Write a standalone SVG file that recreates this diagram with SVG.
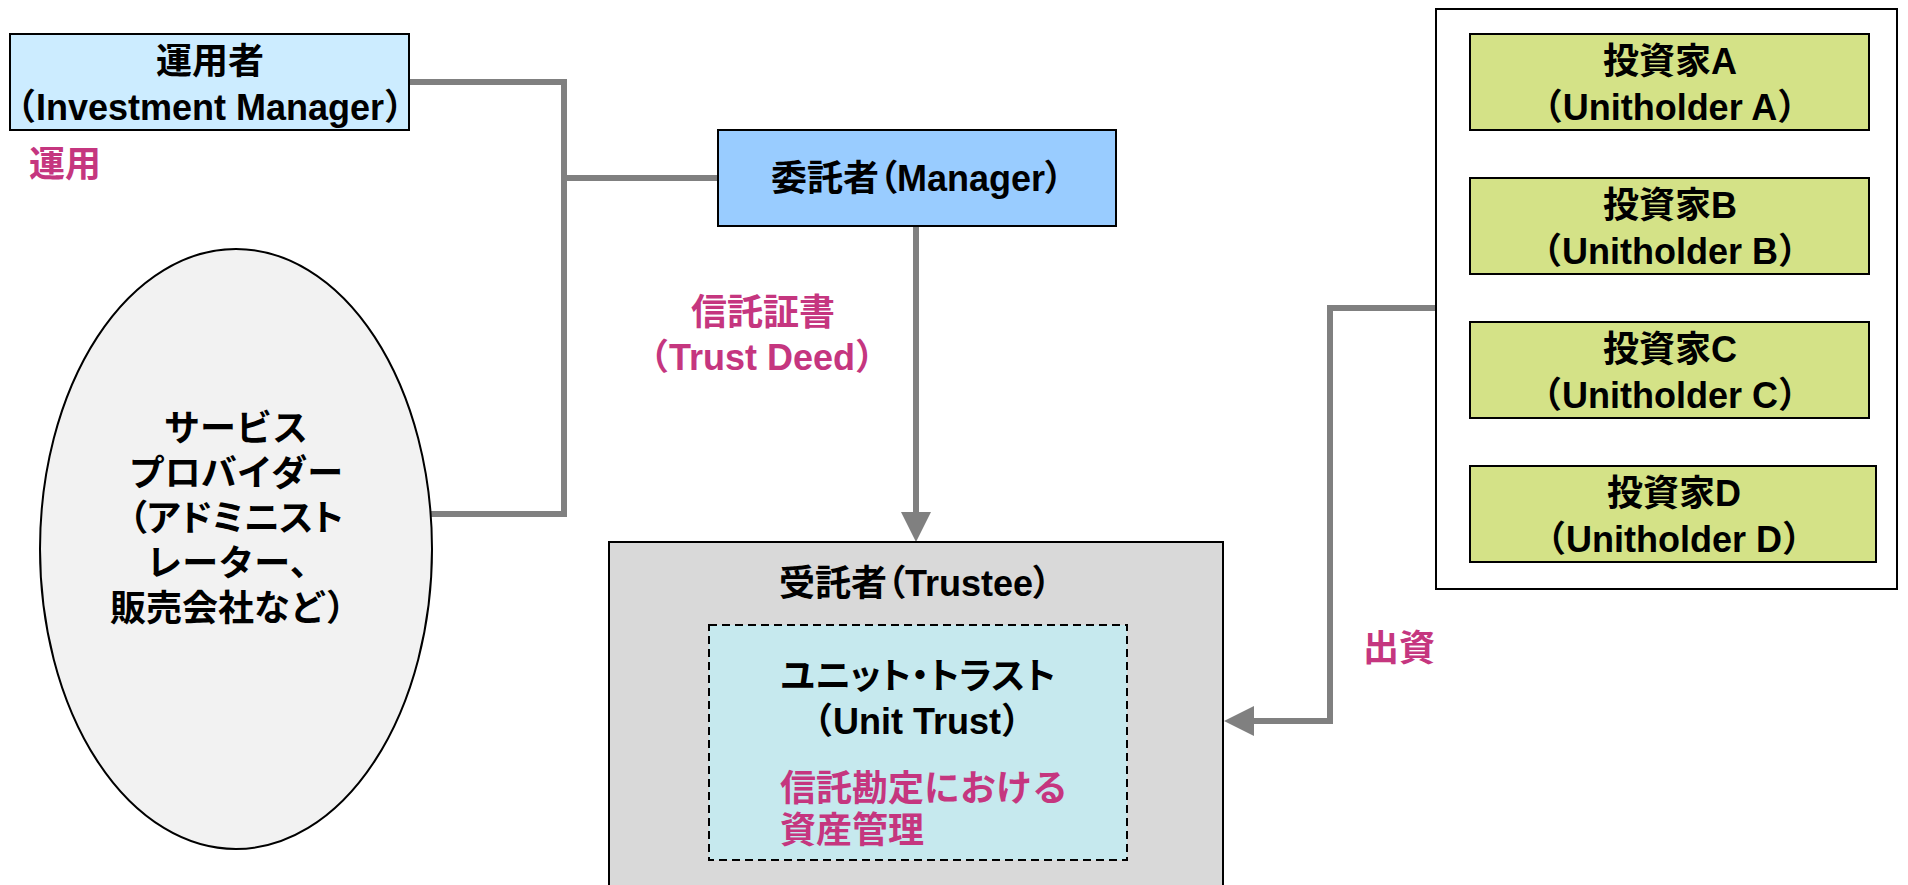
<svg xmlns="http://www.w3.org/2000/svg" width="1908" height="885" viewBox="0 0 1908 885">
  <style>
    .t { font-family: "Liberation Sans", "Noto Sans CJK JP", sans-serif; font-weight: bold; font-size: 36px; fill: #000; }
    .c { text-anchor: middle; }
    .m { fill: #c5367f; }
    .p { font-feature-settings: "palt"; }
    .box { stroke: #000; stroke-width: 2; }
    .conn { fill: none; stroke: #808080; stroke-width: 6; stroke-linejoin: miter; }
  </style>
  <defs>
    <marker id="arr" markerUnits="userSpaceOnUse" markerWidth="30" markerHeight="30" refX="0" refY="15" orient="auto" viewBox="0 0 30 30">
      <path d="M0,0 L30,15 L0,30 z" fill="#808080"/>
    </marker>
  </defs>
  <rect width="1908" height="885" fill="#fff"/>

  <g id="connectors">
    <path class="conn" d="M409,82 H564 V514 H431"/>
    <path class="conn" d="M564,178 H718"/>
    <path class="conn" d="M916,226 V512" marker-end="url(#arr)"/>
    <path class="conn" d="M1436,308 H1330 V721 H1254" marker-end="url(#arr)"/>
  </g>

  <g id="investment-manager">
    <rect class="box" x="10" y="34" width="399" height="96" fill="#ccecff"/>
    <text class="t c" x="210" y="74">運用者</text>
    <text class="t c" x="210" y="120">（Investment Manager）</text>
  </g>
  <text id="label-unyo" class="t m" x="29" y="177">運用</text>

  <g id="service-provider">
    <ellipse class="box" cx="236" cy="549" rx="196" ry="300" fill="#f2f2f2"/>
    <text class="t c" x="236" y="441">サービス</text>
    <text class="t c" x="236" y="486">プロバイダー</text>
    <text class="t c p" x="236" y="531">（アドミニスト</text>
    <text class="t c" x="236" y="576">レーター、</text>
    <text class="t c" x="236" y="621">販売会社など）</text>
  </g>

  <g id="manager">
    <rect class="box" x="718" y="130" width="398" height="96" fill="#99ccff"/>
    <text class="t c p" x="917" y="191">委託者（Manager）</text>
  </g>

  <g id="label-trust-deed">
    <text class="t m c" x="763" y="325">信託証書</text>
    <text class="t m c" x="762" y="370">（Trust Deed）</text>
  </g>

  <g id="trustee">
    <rect class="box" x="609" y="542" width="614" height="360" fill="#d9d9d9"/>
    <text class="t c p" x="915" y="596">受託者（Trustee）</text>
  </g>

  <g id="unit-trust">
    <rect x="709" y="625" width="418" height="235" fill="#c6e9ee" stroke="#000" stroke-width="2" stroke-dasharray="8 5"/>
    <text class="t c p" x="918" y="689">ユニット・トラスト</text>
    <text class="t c" x="917" y="734">（Unit Trust）</text>
    <text class="t m" x="780" y="801">信託勘定における</text>
    <text class="t m" x="780" y="843">資産管理</text>
  </g>

  <g id="investors">
    <rect class="box" x="1436" y="9" width="461" height="580" fill="#fff"/>
  </g>
  <g id="investor-a">
    <rect class="box" x="1470" y="34" width="399" height="96" fill="#d4e287"/>
    <text class="t c" x="1670" y="74">投資家A</text>
    <text class="t c" x="1670" y="120">（Unitholder A）</text>
  </g>
  <g id="investor-b">
    <rect class="box" x="1470" y="178" width="399" height="96" fill="#d4e287"/>
    <text class="t c" x="1670" y="218">投資家B</text>
    <text class="t c" x="1670" y="264">（Unitholder B）</text>
  </g>
  <g id="investor-c">
    <rect class="box" x="1470" y="322" width="399" height="96" fill="#d4e287"/>
    <text class="t c" x="1670" y="362">投資家C</text>
    <text class="t c" x="1670" y="408">（Unitholder C）</text>
  </g>
  <g id="investor-d">
    <rect class="box" x="1470" y="466" width="406" height="96" fill="#d4e287"/>
    <text class="t c" x="1674" y="506">投資家D</text>
    <text class="t c" x="1674" y="552">（Unitholder D）</text>
  </g>

  <text id="label-shusshi" class="t m" x="1363" y="661">出資</text>
</svg>
